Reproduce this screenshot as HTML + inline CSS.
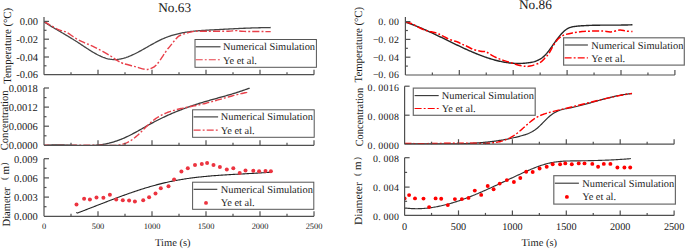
<!DOCTYPE html>
<html><head><meta charset="utf-8"><style>
html,body{margin:0;padding:0;background:#fff;}
body{width:685px;height:249px;overflow:hidden;}
svg{display:block;}
text{font-family:"Liberation Serif",serif;fill:#1a1a1a;text-rendering:geometricPrecision;}
</style></head><body>
<svg width="685" height="249" viewBox="0 0 685 249">
<rect width="685" height="249" fill="#fff"/>
<defs><clipPath id="c0"><rect x="44.0" y="5.0" width="280.00" height="69.70"/></clipPath><clipPath id="c1"><rect x="44.0" y="76.0" width="280.00" height="69.30"/></clipPath><clipPath id="c2"><rect x="44.0" y="146.7" width="280.00" height="69.60"/></clipPath><clipPath id="c3"><rect x="405.4" y="4.899999999999999" width="279.50" height="70.10"/></clipPath><clipPath id="c4"><rect x="404.6" y="74.2" width="279.50" height="70.00"/></clipPath><clipPath id="c5"><rect x="404.6" y="145.7" width="279.50" height="69.70"/></clipPath></defs>
<g clip-path="url(#c0)">
<path d="M44.00,21.40 L45.00,22.55 L46.00,23.18 L47.00,23.79 L48.00,24.41 L49.00,25.02 L50.00,25.62 L51.00,26.22 L52.00,26.82 L53.00,27.42 L54.00,28.01 L55.00,28.60 L56.00,29.19 L57.00,29.78 L58.00,30.37 L59.00,30.95 L60.00,31.54 L61.00,32.13 L62.00,32.71 L63.00,33.30 L64.00,33.89 L65.00,34.48 L66.00,35.07 L67.00,35.67 L68.00,36.26 L69.00,36.86 L70.00,37.47 L71.00,38.07 L72.00,38.69 L73.00,39.30 L74.00,39.93 L75.00,40.55 L76.00,41.19 L77.00,41.82 L78.00,42.47 L79.00,43.12 L80.00,43.78 L81.00,44.44 L82.00,45.11 L83.00,45.77 L84.00,46.44 L85.00,47.10 L86.00,47.76 L87.00,48.42 L88.00,49.07 L89.00,49.72 L90.00,50.35 L91.00,50.98 L92.00,51.60 L93.00,52.20 L94.00,52.79 L95.00,53.36 L96.00,53.92 L97.00,54.46 L98.00,54.98 L99.00,55.48 L100.00,55.96 L101.00,56.42 L102.00,56.84 L103.00,57.25 L104.00,57.62 L105.00,57.97 L106.00,58.29 L107.00,58.57 L108.00,58.82 L109.00,59.04 L110.00,59.22 L111.00,59.36 L112.00,59.47 L113.00,59.54 L114.00,59.57 L115.00,59.57 L116.00,59.53 L117.00,59.46 L118.00,59.35 L119.00,59.22 L120.00,59.06 L121.00,58.86 L122.00,58.64 L123.00,58.40 L124.00,58.13 L125.00,57.83 L126.00,57.51 L127.00,57.16 L128.00,56.80 L129.00,56.41 L130.00,56.01 L131.00,55.59 L132.00,55.15 L133.00,54.69 L134.00,54.22 L135.00,53.73 L136.00,53.24 L137.00,52.73 L138.00,52.20 L139.00,51.67 L140.00,51.13 L141.00,50.59 L142.00,50.03 L143.00,49.47 L144.00,48.91 L145.00,48.34 L146.00,47.77 L147.00,47.20 L148.00,46.63 L149.00,46.06 L150.00,45.49 L151.00,44.93 L152.00,44.37 L153.00,43.81 L154.00,43.26 L155.00,42.72 L156.00,42.19 L157.00,41.66 L158.00,41.15 L159.00,40.64 L160.00,40.15 L161.00,39.67 L162.00,39.21 L163.00,38.76 L164.00,38.33 L165.00,37.92 L166.00,37.52 L167.00,37.13 L168.00,36.76 L169.00,36.40 L170.00,36.06 L171.00,35.73 L172.00,35.42 L173.00,35.11 L174.00,34.82 L175.00,34.55 L176.00,34.28 L177.00,34.03 L178.00,33.78 L179.00,33.55 L180.00,33.33 L181.00,33.12 L182.00,32.92 L183.00,32.73 L184.00,32.55 L185.00,32.37 L186.00,32.21 L187.00,32.05 L188.00,31.91 L189.00,31.77 L190.00,31.63 L191.00,31.51 L192.00,31.39 L193.00,31.28 L194.00,31.17 L195.00,31.07 L196.00,30.97 L197.00,30.88 L198.00,30.80 L199.00,30.72 L200.00,30.64 L201.00,30.56 L202.00,30.49 L203.00,30.43 L204.00,30.36 L205.00,30.30 L206.00,30.24 L207.00,30.18 L208.00,30.13 L209.00,30.07 L210.00,30.02 L211.00,29.96 L212.00,29.91 L213.00,29.86 L214.00,29.80 L215.00,29.75 L216.00,29.69 L217.00,29.64 L218.00,29.59 L219.00,29.53 L220.00,29.48 L221.00,29.42 L222.00,29.37 L223.00,29.31 L224.00,29.26 L225.00,29.20 L226.00,29.15 L227.00,29.10 L228.00,29.04 L229.00,28.99 L230.00,28.94 L231.00,28.89 L232.00,28.84 L233.00,28.79 L234.00,28.74 L235.00,28.69 L236.00,28.64 L237.00,28.59 L238.00,28.54 L239.00,28.49 L240.00,28.45 L241.00,28.40 L242.00,28.36 L243.00,28.31 L244.00,28.27 L245.00,28.23 L246.00,28.19 L247.00,28.15 L248.00,28.11 L249.00,28.07 L250.00,28.03 L251.00,28.00 L252.00,27.96 L253.00,27.93 L254.00,27.90 L255.00,27.87 L256.00,27.84 L257.00,27.81 L258.00,27.78 L259.00,27.76 L260.00,27.74 L261.00,27.71 L262.00,27.69 L263.00,27.68 L264.00,27.66 L265.00,27.64 L266.00,27.63 L267.00,27.62 L268.00,27.61 L269.00,27.60 L270.00,27.59 L270.70,27.50" fill="none" stroke="#444" stroke-width="1.3" stroke-linejoin="round"/>
<path d="M44.30,21.50 C46.53,22.80 54.00,27.50 57.70,29.30 C61.40,31.10 63.55,30.82 66.50,32.30 C69.45,33.78 72.45,36.48 75.40,38.20 C78.35,39.92 81.27,41.25 84.20,42.60 C87.13,43.95 90.05,44.90 93.00,46.30 C95.95,47.70 98.95,49.38 101.90,51.00 C104.85,52.62 108.18,54.43 110.70,56.00 C113.22,57.57 114.92,59.15 117.00,60.40 C119.08,61.65 120.17,62.47 123.20,63.50 C126.23,64.53 131.52,65.62 135.20,66.60 C138.88,67.58 142.55,69.13 145.30,69.40 C148.05,69.67 149.77,69.03 151.70,68.20 C153.63,67.37 154.97,66.53 156.90,64.40 C158.83,62.27 161.65,57.77 163.30,55.40 C164.95,53.03 165.73,51.67 166.80,50.20 C167.87,48.73 168.75,47.78 169.70,46.60 C170.65,45.42 171.53,44.30 172.50,43.10 C173.47,41.90 174.45,40.55 175.50,39.40 C176.55,38.25 177.38,37.12 178.80,36.20 C180.22,35.28 181.92,34.62 184.00,33.90 C186.08,33.18 189.22,32.35 191.30,31.90 C193.38,31.45 194.58,31.30 196.50,31.20 C198.42,31.10 200.20,31.28 202.80,31.30 C205.40,31.32 207.87,31.32 212.10,31.30 C216.33,31.28 224.18,31.32 228.20,31.20 C232.22,31.08 233.53,30.57 236.20,30.60 C238.87,30.63 238.45,31.23 244.20,31.40 C249.95,31.57 266.28,31.57 270.70,31.60" fill="none" stroke="#e8404a" stroke-width="1.4" stroke-linejoin="round" stroke-dasharray="7 2.1 1.9 2.1"/>
</g>
<g clip-path="url(#c1)">
<path d="M44.00,145.30 L45.00,145.46 L46.00,145.36 L47.00,145.28 L48.00,145.20 L49.00,145.13 L50.00,145.07 L51.00,145.03 L52.00,144.99 L53.00,144.95 L54.00,144.93 L55.00,144.91 L56.00,144.90 L57.00,144.90 L58.00,144.90 L59.00,144.91 L60.00,144.92 L61.00,144.94 L62.00,144.96 L63.00,144.99 L64.00,145.02 L65.00,145.05 L66.00,145.09 L67.00,145.13 L68.00,145.17 L69.00,145.21 L70.00,145.25 L71.00,145.29 L72.00,145.34 L73.00,145.38 L74.00,145.42 L75.00,145.46 L76.00,145.50 L77.00,145.54 L78.00,145.57 L79.00,145.60 L80.00,145.63 L81.00,145.66 L82.00,145.68 L83.00,145.69 L84.00,145.70 L85.00,145.71 L86.00,145.71 L87.00,145.70 L88.00,145.69 L89.00,145.67 L90.00,145.64 L91.00,145.61 L92.00,145.56 L93.00,145.51 L94.00,145.45 L95.00,145.38 L96.00,145.30 L97.00,145.21 L98.00,145.10 L99.00,144.99 L100.00,144.86 L101.00,144.72 L102.00,144.57 L103.00,144.41 L104.00,144.23 L105.00,144.05 L106.00,143.85 L107.00,143.63 L108.00,143.40 L109.00,143.17 L110.00,142.91 L111.00,142.65 L112.00,142.37 L113.00,142.08 L114.00,141.78 L115.00,141.46 L116.00,141.14 L117.00,140.80 L118.00,140.44 L119.00,140.08 L120.00,139.70 L121.00,139.31 L122.00,138.91 L123.00,138.49 L124.00,138.06 L125.00,137.62 L126.00,137.17 L127.00,136.70 L128.00,136.22 L129.00,135.73 L130.00,135.23 L131.00,134.72 L132.00,134.21 L133.00,133.68 L134.00,133.14 L135.00,132.60 L136.00,132.06 L137.00,131.51 L138.00,130.95 L139.00,130.39 L140.00,129.83 L141.00,129.26 L142.00,128.69 L143.00,128.13 L144.00,127.56 L145.00,126.99 L146.00,126.43 L147.00,125.86 L148.00,125.30 L149.00,124.75 L150.00,124.19 L151.00,123.65 L152.00,123.11 L153.00,122.57 L154.00,122.04 L155.00,121.52 L156.00,121.00 L157.00,120.49 L158.00,119.98 L159.00,119.48 L160.00,118.98 L161.00,118.49 L162.00,118.01 L163.00,117.53 L164.00,117.05 L165.00,116.59 L166.00,116.12 L167.00,115.66 L168.00,115.21 L169.00,114.76 L170.00,114.32 L171.00,113.88 L172.00,113.45 L173.00,113.02 L174.00,112.60 L175.00,112.18 L176.00,111.77 L177.00,111.36 L178.00,110.95 L179.00,110.56 L180.00,110.16 L181.00,109.77 L182.00,109.39 L183.00,109.00 L184.00,108.63 L185.00,108.26 L186.00,107.89 L187.00,107.52 L188.00,107.16 L189.00,106.81 L190.00,106.46 L191.00,106.11 L192.00,105.77 L193.00,105.43 L194.00,105.10 L195.00,104.76 L196.00,104.44 L197.00,104.11 L198.00,103.80 L199.00,103.48 L200.00,103.17 L201.00,102.86 L202.00,102.56 L203.00,102.25 L204.00,101.96 L205.00,101.66 L206.00,101.37 L207.00,101.08 L208.00,100.79 L209.00,100.51 L210.00,100.22 L211.00,99.94 L212.00,99.66 L213.00,99.38 L214.00,99.10 L215.00,98.82 L216.00,98.54 L217.00,98.27 L218.00,97.99 L219.00,97.71 L220.00,97.44 L221.00,97.16 L222.00,96.88 L223.00,96.60 L224.00,96.32 L225.00,96.04 L226.00,95.75 L227.00,95.47 L228.00,95.18 L229.00,94.89 L230.00,94.60 L231.00,94.30 L232.00,94.00 L233.00,93.70 L234.00,93.40 L235.00,93.09 L236.00,92.78 L237.00,92.46 L238.00,92.14 L239.00,91.82 L240.00,91.49 L241.00,91.15 L242.00,90.81 L243.00,90.47 L244.00,90.12 L245.00,89.76 L246.00,89.40 L247.00,89.03 L248.00,88.66 L249.00,88.28 L249.70,88.30" fill="none" stroke="#3a3a3a" stroke-width="1.3" stroke-linejoin="round"/>
<path d="M44.00,145.30 L45.00,145.22 L46.00,145.25 L47.00,145.29 L48.00,145.32 L49.00,145.34 L50.00,145.36 L51.00,145.38 L52.00,145.40 L53.00,145.41 L54.00,145.43 L55.00,145.43 L56.00,145.44 L57.00,145.44 L58.00,145.44 L59.00,145.44 L60.00,145.44 L61.00,145.44 L62.00,145.43 L63.00,145.42 L64.00,145.41 L65.00,145.40 L66.00,145.39 L67.00,145.37 L68.00,145.36 L69.00,145.35 L70.00,145.33 L71.00,145.31 L72.00,145.30 L73.00,145.28 L74.00,145.26 L75.00,145.25 L76.00,145.23 L77.00,145.21 L78.00,145.20 L79.00,145.18 L80.00,145.17 L81.00,145.15 L82.00,145.14 L83.00,145.13 L84.00,145.12 L85.00,145.11 L86.00,145.10 L87.00,145.09 L88.00,145.09 L89.00,145.09 L90.00,145.08 L91.00,145.09 L92.00,145.09 L93.00,145.10 L94.00,145.10 L95.00,145.12 L96.00,145.13 L97.00,145.15 L98.00,145.17 L99.00,145.19 L100.00,145.22 L101.00,145.25 L102.00,145.28 L103.00,145.32 L104.00,145.36 L105.00,145.40 L106.00,145.44 L107.00,145.48 L108.00,145.51 L109.00,145.54 L110.00,145.55 L111.00,145.56 L112.00,145.55 L113.00,145.53 L114.00,145.50 L115.00,145.44 L116.00,145.37 L117.00,145.27 L118.00,145.15 L119.00,145.00 L120.00,144.82 L121.00,144.61 L122.00,144.37 L123.00,144.09 L124.00,143.78 L125.00,143.43 L126.00,143.04 L127.00,142.61 L128.00,142.13 L129.00,141.61 L130.00,141.04 L131.00,140.42 L132.00,139.75 L133.00,139.04 L134.00,138.29 L135.00,137.49 L136.00,136.66 L137.00,135.80 L138.00,134.90 L139.00,133.97 L140.00,133.01 L141.00,132.03 L142.00,131.04 L143.00,130.02 L144.00,129.01 L145.00,127.99 L146.00,126.98 L147.00,125.99 L148.00,125.01 L149.00,124.06 L150.00,123.15 L151.00,122.27 L152.00,121.43 L153.00,120.63 L154.00,119.86 L155.00,119.13 L156.00,118.44 L157.00,117.77 L158.00,117.14 L159.00,116.54 L160.00,115.96 L161.00,115.42 L162.00,114.90 L163.00,114.40 L164.00,113.93 L165.00,113.49 L166.00,113.06 L167.00,112.66 L168.00,112.27 L169.00,111.91 L170.00,111.56 L171.00,111.22 L172.00,110.91 L173.00,110.60 L174.00,110.31 L175.00,110.03 L176.00,109.76 L177.00,109.50 L178.00,109.25 L179.00,109.01 L180.00,108.77 L181.00,108.54 L182.00,108.32 L183.00,108.10 L184.00,107.89 L185.00,107.69 L186.00,107.48 L187.00,107.28 L188.00,107.08 L189.00,106.89 L190.00,106.69 L191.00,106.50 L192.00,106.30 L193.00,106.10 L194.00,105.90 L195.00,105.70 L196.00,105.50 L197.00,105.29 L198.00,105.08 L199.00,104.87 L200.00,104.64 L201.00,104.41 L202.00,104.18 L203.00,103.94 L204.00,103.70 L205.00,103.45 L206.00,103.20 L207.00,102.94 L208.00,102.68 L209.00,102.41 L210.00,102.15 L211.00,101.88 L212.00,101.60 L213.00,101.33 L214.00,101.05 L215.00,100.77 L216.00,100.48 L217.00,100.20 L218.00,99.92 L219.00,99.63 L220.00,99.34 L221.00,99.06 L222.00,98.77 L223.00,98.48 L224.00,98.20 L225.00,97.91 L226.00,97.63 L227.00,97.35 L228.00,97.06 L229.00,96.79 L230.00,96.51 L231.00,96.23 L232.00,95.96 L233.00,95.69 L234.00,95.43 L235.00,95.16 L236.00,94.91 L237.00,94.65 L238.00,94.40 L239.00,94.16 L240.00,93.91 L241.00,93.68 L242.00,93.45 L243.00,93.23 L244.00,93.01 L245.00,92.80 L246.00,92.59 L247.00,92.39 L248.00,92.00" fill="none" stroke="#e8404a" stroke-width="1.4" stroke-linejoin="round" stroke-dasharray="7 2.1 1.9 2.1"/>
</g>
<g clip-path="url(#c2)">
<path d="M76.30,212.40 L77.30,213.09 L78.30,212.71 L79.30,212.33 L80.30,211.94 L81.30,211.56 L82.30,211.18 L83.30,210.79 L84.30,210.40 L85.30,210.02 L86.30,209.63 L87.30,209.24 L88.30,208.86 L89.30,208.47 L90.30,208.08 L91.30,207.69 L92.30,207.30 L93.30,206.91 L94.30,206.52 L95.30,206.13 L96.30,205.74 L97.30,205.35 L98.30,204.97 L99.30,204.58 L100.30,204.19 L101.30,203.80 L102.30,203.41 L103.30,203.03 L104.30,202.64 L105.30,202.25 L106.30,201.87 L107.30,201.48 L108.30,201.10 L109.30,200.72 L110.30,200.34 L111.30,199.96 L112.30,199.58 L113.30,199.20 L114.30,198.82 L115.30,198.44 L116.30,198.07 L117.30,197.70 L118.30,197.32 L119.30,196.95 L120.30,196.59 L121.30,196.22 L122.30,195.85 L123.30,195.49 L124.30,195.13 L125.30,194.77 L126.30,194.41 L127.30,194.05 L128.30,193.70 L129.30,193.35 L130.30,193.00 L131.30,192.65 L132.30,192.31 L133.30,191.96 L134.30,191.62 L135.30,191.29 L136.30,190.95 L137.30,190.62 L138.30,190.29 L139.30,189.96 L140.30,189.64 L141.30,189.32 L142.30,189.00 L143.30,188.69 L144.30,188.37 L145.30,188.06 L146.30,187.76 L147.30,187.46 L148.30,187.16 L149.30,186.86 L150.30,186.57 L151.30,186.28 L152.30,186.00 L153.30,185.72 L154.30,185.44 L155.30,185.16 L156.30,184.89 L157.30,184.63 L158.30,184.37 L159.30,184.11 L160.30,183.85 L161.30,183.61 L162.30,183.36 L163.30,183.12 L164.30,182.88 L165.30,182.65 L166.30,182.42 L167.30,182.20 L168.30,181.98 L169.30,181.76 L170.30,181.55 L171.30,181.35 L172.30,181.15 L173.30,180.95 L174.30,180.75 L175.30,180.56 L176.30,180.38 L177.30,180.20 L178.30,180.02 L179.30,179.84 L180.30,179.67 L181.30,179.51 L182.30,179.34 L183.30,179.18 L184.30,179.03 L185.30,178.87 L186.30,178.72 L187.30,178.58 L188.30,178.43 L189.30,178.29 L190.30,178.16 L191.30,178.02 L192.30,177.89 L193.30,177.76 L194.30,177.64 L195.30,177.52 L196.30,177.40 L197.30,177.28 L198.30,177.17 L199.30,177.06 L200.30,176.95 L201.30,176.84 L202.30,176.74 L203.30,176.64 L204.30,176.54 L205.30,176.44 L206.30,176.35 L207.30,176.25 L208.30,176.16 L209.30,176.08 L210.30,175.99 L211.30,175.91 L212.30,175.82 L213.30,175.74 L214.30,175.66 L215.30,175.59 L216.30,175.51 L217.30,175.44 L218.30,175.36 L219.30,175.29 L220.30,175.22 L221.30,175.16 L222.30,175.09 L223.30,175.02 L224.30,174.96 L225.30,174.90 L226.30,174.83 L227.30,174.77 L228.30,174.71 L229.30,174.65 L230.30,174.59 L231.30,174.54 L232.30,174.48 L233.30,174.42 L234.30,174.37 L235.30,174.31 L236.30,174.26 L237.30,174.20 L238.30,174.15 L239.30,174.09 L240.30,174.04 L241.30,173.99 L242.30,173.93 L243.30,173.88 L244.30,173.83 L245.30,173.77 L246.30,173.72 L247.30,173.67 L248.30,173.62 L249.30,173.56 L250.30,173.51 L251.30,173.45 L252.30,173.40 L253.30,173.34 L254.30,173.29 L255.30,173.23 L256.30,173.17 L257.30,173.12 L258.30,173.06 L259.30,173.00 L260.30,172.94 L261.30,172.88 L262.30,172.81 L263.30,172.75 L264.30,172.69 L265.30,172.62 L266.30,172.55 L267.30,172.49 L268.30,172.42 L269.30,172.35 L270.30,172.10" fill="none" stroke="#222" stroke-width="1.1" stroke-linejoin="round"/>
<circle cx="76.5" cy="204.60" r="2.0" fill="#ec3440"/>
<circle cx="84.1" cy="198.70" r="2.0" fill="#ec3440"/>
<circle cx="89.9" cy="199.60" r="2.0" fill="#ec3440"/>
<circle cx="96.5" cy="197.40" r="2.0" fill="#ec3440"/>
<circle cx="103.4" cy="197.70" r="2.0" fill="#ec3440"/>
<circle cx="109.9" cy="194.80" r="2.0" fill="#ec3440"/>
<circle cx="116.2" cy="199.60" r="2.0" fill="#ec3440"/>
<circle cx="122.8" cy="200.20" r="2.0" fill="#ec3440"/>
<circle cx="129.1" cy="200.50" r="2.0" fill="#ec3440"/>
<circle cx="134.9" cy="201.40" r="2.0" fill="#ec3440"/>
<circle cx="143.2" cy="200.20" r="2.0" fill="#ec3440"/>
<circle cx="149.1" cy="197.30" r="2.0" fill="#ec3440"/>
<circle cx="155.5" cy="193.40" r="2.0" fill="#ec3440"/>
<circle cx="160.8" cy="188.30" r="2.0" fill="#ec3440"/>
<circle cx="168.5" cy="186.20" r="2.0" fill="#ec3440"/>
<circle cx="174.1" cy="179.40" r="2.0" fill="#ec3440"/>
<circle cx="181.4" cy="171.40" r="2.0" fill="#ec3440"/>
<circle cx="187.8" cy="168.20" r="2.0" fill="#ec3440"/>
<circle cx="195" cy="164.90" r="2.0" fill="#ec3440"/>
<circle cx="201.8" cy="164.10" r="2.0" fill="#ec3440"/>
<circle cx="207.1" cy="162.90" r="2.0" fill="#ec3440"/>
<circle cx="213.5" cy="164.90" r="2.0" fill="#ec3440"/>
<circle cx="219.9" cy="166.90" r="2.0" fill="#ec3440"/>
<circle cx="226.8" cy="169.40" r="2.0" fill="#ec3440"/>
<circle cx="233.3" cy="168.20" r="2.0" fill="#ec3440"/>
<circle cx="239.7" cy="173.10" r="2.0" fill="#ec3440"/>
<circle cx="245.5" cy="170.50" r="2.0" fill="#ec3440"/>
<circle cx="253.3" cy="170.80" r="2.0" fill="#ec3440"/>
<circle cx="259.1" cy="171.20" r="2.0" fill="#ec3440"/>
<circle cx="265.5" cy="171.00" r="2.0" fill="#ec3440"/>
<circle cx="270.9" cy="171.20" r="2.0" fill="#ec3440"/>
</g>
<g clip-path="url(#c3)">
<path d="M405.50,21.60 L406.50,22.51 L407.50,22.85 L408.50,23.19 L409.50,23.54 L410.50,23.90 L411.50,24.26 L412.50,24.63 L413.50,25.01 L414.50,25.39 L415.50,25.78 L416.50,26.18 L417.50,26.58 L418.50,26.99 L419.50,27.40 L420.50,27.82 L421.50,28.25 L422.50,28.67 L423.50,29.11 L424.50,29.54 L425.50,29.99 L426.50,30.43 L427.50,30.88 L428.50,31.34 L429.50,31.79 L430.50,32.25 L431.50,32.72 L432.50,33.18 L433.50,33.65 L434.50,34.12 L435.50,34.60 L436.50,35.07 L437.50,35.55 L438.50,36.03 L439.50,36.52 L440.50,37.00 L441.50,37.48 L442.50,37.97 L443.50,38.46 L444.50,38.94 L445.50,39.43 L446.50,39.92 L447.50,40.41 L448.50,40.89 L449.50,41.38 L450.50,41.87 L451.50,42.36 L452.50,42.84 L453.50,43.33 L454.50,43.81 L455.50,44.29 L456.50,44.77 L457.50,45.25 L458.50,45.73 L459.50,46.20 L460.50,46.67 L461.50,47.14 L462.50,47.61 L463.50,48.07 L464.50,48.54 L465.50,48.99 L466.50,49.45 L467.50,49.90 L468.50,50.34 L469.50,50.78 L470.50,51.22 L471.50,51.66 L472.50,52.08 L473.50,52.51 L474.50,52.93 L475.50,53.34 L476.50,53.75 L477.50,54.15 L478.50,54.55 L479.50,54.94 L480.50,55.32 L481.50,55.70 L482.50,56.07 L483.50,56.44 L484.50,56.80 L485.50,57.15 L486.50,57.49 L487.50,57.83 L488.50,58.16 L489.50,58.48 L490.50,58.79 L491.50,59.09 L492.50,59.39 L493.50,59.68 L494.50,59.95 L495.50,60.22 L496.50,60.48 L497.50,60.73 L498.50,60.97 L499.50,61.20 L500.50,61.42 L501.50,61.64 L502.50,61.84 L503.50,62.03 L504.50,62.21 L505.50,62.37 L506.50,62.53 L507.50,62.68 L508.50,62.81 L509.50,62.93 L510.50,63.04 L511.50,63.14 L512.50,63.23 L513.50,63.30 L514.50,63.36 L515.50,63.41 L516.50,63.45 L517.50,63.47 L518.50,63.48 L519.50,63.47 L520.50,63.45 L521.50,63.42 L522.50,63.37 L523.50,63.31 L524.50,63.24 L525.50,63.14 L526.50,63.04 L527.50,62.92 L528.50,62.78 L529.50,62.63 L530.50,62.46 L531.50,62.28 L532.50,62.07 L533.50,61.83 L534.50,61.55 L535.50,61.24 L536.50,60.88 L537.50,60.47 L538.50,60.00 L539.50,59.48 L540.50,58.88 L541.50,58.21 L542.50,57.47 L543.50,56.64 L544.50,55.72 L545.50,54.71 L546.50,53.60 L547.50,52.41 L548.50,51.15 L549.50,49.83 L550.50,48.47 L551.50,47.07 L552.50,45.65 L553.50,44.23 L554.50,42.82 L555.50,41.41 L556.50,40.03 L557.50,38.68 L558.50,37.37 L559.50,36.11 L560.50,34.90 L561.50,33.75 L562.50,32.68 L563.50,31.68 L564.50,30.78 L565.50,29.97 L566.50,29.26 L567.50,28.66 L568.50,28.14 L569.50,27.71 L570.50,27.35 L571.50,27.05 L572.50,26.81 L573.50,26.62 L574.50,26.46 L575.50,26.33 L576.50,26.23 L577.50,26.14 L578.50,26.05 L579.50,25.97 L580.50,25.89 L581.50,25.82 L582.50,25.75 L583.50,25.69 L584.50,25.63 L585.50,25.58 L586.50,25.53 L587.50,25.48 L588.50,25.44 L589.50,25.40 L590.50,25.37 L591.50,25.33 L592.50,25.31 L593.50,25.28 L594.50,25.26 L595.50,25.24 L596.50,25.22 L597.50,25.20 L598.50,25.19 L599.50,25.18 L600.50,25.17 L601.50,25.16 L602.50,25.15 L603.50,25.15 L604.50,25.14 L605.50,25.14 L606.50,25.14 L607.50,25.13 L608.50,25.13 L609.50,25.13 L610.50,25.13 L611.50,25.13 L612.50,25.12 L613.50,25.12 L614.50,25.12 L615.50,25.11 L616.50,25.11 L617.50,25.10 L618.50,25.10 L619.50,25.09 L620.50,25.08 L621.50,25.07 L622.50,25.05 L623.50,25.04 L624.50,25.02 L625.50,25.00 L626.50,24.97 L627.50,24.95 L628.50,24.92 L629.50,24.89 L630.50,24.85 L631.50,24.81 L632.50,24.90" fill="none" stroke="#262626" stroke-width="1.4" stroke-linejoin="round"/>
<path d="M405.50,21.60 C406.55,21.95 409.62,22.75 411.80,23.70 C413.98,24.65 416.32,26.18 418.60,27.30 C420.88,28.42 423.70,29.72 425.50,30.40 C427.30,31.08 427.90,31.05 429.40,31.40 C430.90,31.75 432.93,32.07 434.50,32.50 C436.07,32.93 437.23,33.32 438.80,34.00 C440.37,34.68 441.97,35.63 443.90,36.60 C445.83,37.57 448.12,38.90 450.40,39.80 C452.68,40.70 455.67,41.25 457.60,42.00 C459.53,42.75 460.47,43.60 462.00,44.30 C463.53,45.00 464.87,45.32 466.80,46.20 C468.73,47.08 471.32,48.77 473.60,49.60 C475.88,50.43 478.45,50.83 480.50,51.20 C482.55,51.57 484.08,51.15 485.90,51.80 C487.72,52.45 489.35,53.98 491.40,55.10 C493.45,56.22 495.93,57.53 498.20,58.50 C500.47,59.47 502.73,60.15 505.00,60.90 C507.27,61.65 509.52,62.27 511.80,63.00 C514.08,63.73 516.42,64.75 518.70,65.30 C520.98,65.85 523.62,66.17 525.50,66.30 C527.38,66.43 527.65,66.68 530.00,66.10 C532.35,65.52 537.03,64.22 539.60,62.80 C542.17,61.38 543.78,59.27 545.40,57.60 C547.02,55.93 548.02,54.73 549.30,52.80 C550.58,50.87 551.82,48.10 553.10,46.00 C554.38,43.90 555.70,41.73 557.00,40.20 C558.30,38.67 559.62,37.70 560.90,36.80 C562.18,35.90 562.78,35.45 564.70,34.80 C566.62,34.15 569.50,33.43 572.40,32.90 C575.30,32.37 578.83,31.90 582.10,31.60 C585.37,31.30 588.52,31.18 592.00,31.10 C595.48,31.02 599.88,30.97 603.00,31.10 C606.12,31.23 607.88,32.08 610.70,31.90 C613.52,31.72 617.35,30.13 619.90,30.00 C622.45,29.87 623.90,30.83 626.00,31.10 C628.10,31.37 631.42,31.52 632.50,31.60" fill="none" stroke="#ff0000" stroke-width="1.5" stroke-linejoin="round" stroke-dasharray="7 2.1 1.9 2.1"/>
</g>
<g clip-path="url(#c4)">
<path d="M404.50,144.00 L405.50,143.97 L406.50,143.95 L407.50,143.94 L408.50,143.93 L409.50,143.92 L410.50,143.92 L411.50,143.91 L412.50,143.90 L413.50,143.90 L414.50,143.90 L415.50,143.89 L416.50,143.89 L417.50,143.89 L418.50,143.89 L419.50,143.89 L420.50,143.90 L421.50,143.90 L422.50,143.90 L423.50,143.90 L424.50,143.91 L425.50,143.91 L426.50,143.92 L427.50,143.92 L428.50,143.93 L429.50,143.93 L430.50,143.93 L431.50,143.94 L432.50,143.94 L433.50,143.95 L434.50,143.95 L435.50,143.96 L436.50,143.96 L437.50,143.96 L438.50,143.96 L439.50,143.96 L440.50,143.97 L441.50,143.97 L442.50,143.97 L443.50,143.96 L444.50,143.96 L445.50,143.96 L446.50,143.95 L447.50,143.95 L448.50,143.94 L449.50,143.93 L450.50,143.92 L451.50,143.91 L452.50,143.90 L453.50,143.89 L454.50,143.87 L455.50,143.85 L456.50,143.83 L457.50,143.81 L458.50,143.79 L459.50,143.77 L460.50,143.74 L461.50,143.71 L462.50,143.68 L463.50,143.65 L464.50,143.61 L465.50,143.58 L466.50,143.54 L467.50,143.49 L468.50,143.45 L469.50,143.40 L470.50,143.35 L471.50,143.30 L472.50,143.25 L473.50,143.19 L474.50,143.13 L475.50,143.06 L476.50,142.99 L477.50,142.92 L478.50,142.85 L479.50,142.77 L480.50,142.69 L481.50,142.61 L482.50,142.52 L483.50,142.43 L484.50,142.34 L485.50,142.24 L486.50,142.14 L487.50,142.04 L488.50,141.93 L489.50,141.82 L490.50,141.70 L491.50,141.58 L492.50,141.45 L493.50,141.33 L494.50,141.19 L495.50,141.05 L496.50,140.91 L497.50,140.77 L498.50,140.62 L499.50,140.46 L500.50,140.30 L501.50,140.14 L502.50,139.97 L503.50,139.79 L504.50,139.61 L505.50,139.43 L506.50,139.24 L507.50,139.05 L508.50,138.85 L509.50,138.64 L510.50,138.44 L511.50,138.22 L512.50,138.00 L513.50,137.77 L514.50,137.54 L515.50,137.31 L516.50,137.06 L517.50,136.82 L518.50,136.56 L519.50,136.30 L520.50,136.04 L521.50,135.76 L522.50,135.48 L523.50,135.19 L524.50,134.89 L525.50,134.56 L526.50,134.21 L527.50,133.84 L528.50,133.44 L529.50,133.01 L530.50,132.54 L531.50,132.03 L532.50,131.47 L533.50,130.87 L534.50,130.22 L535.50,129.51 L536.50,128.75 L537.50,127.93 L538.50,127.06 L539.50,126.15 L540.50,125.19 L541.50,124.20 L542.50,123.17 L543.50,122.13 L544.50,121.08 L545.50,120.05 L546.50,119.05 L547.50,118.09 L548.50,117.18 L549.50,116.32 L550.50,115.51 L551.50,114.74 L552.50,114.02 L553.50,113.35 L554.50,112.74 L555.50,112.17 L556.50,111.65 L557.50,111.18 L558.50,110.76 L559.50,110.38 L560.50,110.04 L561.50,109.73 L562.50,109.46 L563.50,109.21 L564.50,108.98 L565.50,108.77 L566.50,108.57 L567.50,108.38 L568.50,108.19 L569.50,108.01 L570.50,107.81 L571.50,107.61 L572.50,107.40 L573.50,107.19 L574.50,106.97 L575.50,106.74 L576.50,106.51 L577.50,106.27 L578.50,106.03 L579.50,105.78 L580.50,105.53 L581.50,105.27 L582.50,105.01 L583.50,104.74 L584.50,104.47 L585.50,104.20 L586.50,103.93 L587.50,103.65 L588.50,103.37 L589.50,103.09 L590.50,102.81 L591.50,102.53 L592.50,102.24 L593.50,101.96 L594.50,101.67 L595.50,101.38 L596.50,101.10 L597.50,100.81 L598.50,100.53 L599.50,100.25 L600.50,99.97 L601.50,99.69 L602.50,99.41 L603.50,99.14 L604.50,98.87 L605.50,98.60 L606.50,98.33 L607.50,98.07 L608.50,97.81 L609.50,97.56 L610.50,97.31 L611.50,97.06 L612.50,96.83 L613.50,96.59 L614.50,96.36 L615.50,96.14 L616.50,95.93 L617.50,95.72 L618.50,95.52 L619.50,95.32 L620.50,95.14 L621.50,94.96 L622.50,94.79 L623.50,94.63 L624.50,94.47 L625.50,94.33 L626.50,94.20 L627.50,94.07 L628.50,93.96 L629.50,93.85 L630.50,93.76 L631.50,93.68 L631.90,93.40" fill="none" stroke="#2e2e2e" stroke-width="1.2" stroke-linejoin="round"/>
<path d="M404.50,143.60 L405.50,143.37 L406.50,143.40 L407.50,143.43 L408.50,143.46 L409.50,143.49 L410.50,143.51 L411.50,143.53 L412.50,143.55 L413.50,143.57 L414.50,143.58 L415.50,143.59 L416.50,143.60 L417.50,143.61 L418.50,143.61 L419.50,143.61 L420.50,143.62 L421.50,143.62 L422.50,143.61 L423.50,143.61 L424.50,143.61 L425.50,143.60 L426.50,143.59 L427.50,143.58 L428.50,143.57 L429.50,143.56 L430.50,143.55 L431.50,143.54 L432.50,143.52 L433.50,143.51 L434.50,143.49 L435.50,143.48 L436.50,143.46 L437.50,143.45 L438.50,143.43 L439.50,143.41 L440.50,143.39 L441.50,143.38 L442.50,143.36 L443.50,143.34 L444.50,143.32 L445.50,143.31 L446.50,143.29 L447.50,143.27 L448.50,143.26 L449.50,143.24 L450.50,143.23 L451.50,143.21 L452.50,143.20 L453.50,143.19 L454.50,143.18 L455.50,143.16 L456.50,143.16 L457.50,143.15 L458.50,143.14 L459.50,143.13 L460.50,143.13 L461.50,143.13 L462.50,143.12 L463.50,143.13 L464.50,143.13 L465.50,143.13 L466.50,143.14 L467.50,143.14 L468.50,143.15 L469.50,143.17 L470.50,143.18 L471.50,143.20 L472.50,143.22 L473.50,143.24 L474.50,143.26 L475.50,143.28 L476.50,143.31 L477.50,143.33 L478.50,143.35 L479.50,143.36 L480.50,143.38 L481.50,143.39 L482.50,143.39 L483.50,143.38 L484.50,143.37 L485.50,143.35 L486.50,143.33 L487.50,143.29 L488.50,143.24 L489.50,143.18 L490.50,143.10 L491.50,143.01 L492.50,142.91 L493.50,142.79 L494.50,142.66 L495.50,142.50 L496.50,142.33 L497.50,142.14 L498.50,141.93 L499.50,141.70 L500.50,141.45 L501.50,141.18 L502.50,140.88 L503.50,140.55 L504.50,140.21 L505.50,139.83 L506.50,139.43 L507.50,139.00 L508.50,138.54 L509.50,138.05 L510.50,137.53 L511.50,136.98 L512.50,136.39 L513.50,135.78 L514.50,135.12 L515.50,134.43 L516.50,133.71 L517.50,132.95 L518.50,132.15 L519.50,131.33 L520.50,130.48 L521.50,129.61 L522.50,128.72 L523.50,127.83 L524.50,126.92 L525.50,126.02 L526.50,125.12 L527.50,124.23 L528.50,123.36 L529.50,122.50 L530.50,121.67 L531.50,120.86 L532.50,120.09 L533.50,119.35 L534.50,118.66 L535.50,118.01 L536.50,117.41 L537.50,116.86 L538.50,116.34 L539.50,115.87 L540.50,115.42 L541.50,115.01 L542.50,114.62 L543.50,114.26 L544.50,113.92 L545.50,113.60 L546.50,113.29 L547.50,113.00 L548.50,112.71 L549.50,112.43 L550.50,112.15 L551.50,111.88 L552.50,111.62 L553.50,111.36 L554.50,111.10 L555.50,110.84 L556.50,110.59 L557.50,110.35 L558.50,110.10 L559.50,109.86 L560.50,109.62 L561.50,109.38 L562.50,109.14 L563.50,108.90 L564.50,108.67 L565.50,108.43 L566.50,108.20 L567.50,107.96 L568.50,107.72 L569.50,107.48 L570.50,107.25 L571.50,107.00 L572.50,106.76 L573.50,106.52 L574.50,106.28 L575.50,106.03 L576.50,105.78 L577.50,105.54 L578.50,105.29 L579.50,105.04 L580.50,104.79 L581.50,104.54 L582.50,104.29 L583.50,104.04 L584.50,103.79 L585.50,103.53 L586.50,103.28 L587.50,103.03 L588.50,102.78 L589.50,102.53 L590.50,102.28 L591.50,102.03 L592.50,101.78 L593.50,101.53 L594.50,101.28 L595.50,101.04 L596.50,100.79 L597.50,100.54 L598.50,100.30 L599.50,100.06 L600.50,99.81 L601.50,99.57 L602.50,99.33 L603.50,99.10 L604.50,98.86 L605.50,98.63 L606.50,98.39 L607.50,98.16 L608.50,97.93 L609.50,97.71 L610.50,97.48 L611.50,97.26 L612.50,97.04 L613.50,96.83 L614.50,96.61 L615.50,96.40 L616.50,96.19 L617.50,95.99 L618.50,95.78 L619.50,95.58 L620.50,95.39 L621.50,95.19 L622.50,95.00 L623.50,94.81 L624.50,94.63 L625.50,94.45 L626.50,94.28 L627.50,94.10 L628.50,93.94 L629.50,93.77 L630.50,93.61 L631.50,93.46 L631.90,93.40" fill="none" stroke="#ff0000" stroke-width="1.4" stroke-linejoin="round" stroke-dasharray="7 2.1 1.9 2.1"/>
</g>
<g clip-path="url(#c5)">
<path d="M404.50,208.60 L405.50,208.05 L406.50,208.16 L407.50,208.27 L408.50,208.36 L409.50,208.44 L410.50,208.51 L411.50,208.57 L412.50,208.62 L413.50,208.66 L414.50,208.69 L415.50,208.70 L416.50,208.71 L417.50,208.70 L418.50,208.69 L419.50,208.66 L420.50,208.63 L421.50,208.58 L422.50,208.52 L423.50,208.46 L424.50,208.38 L425.50,208.30 L426.50,208.21 L427.50,208.10 L428.50,207.99 L429.50,207.87 L430.50,207.74 L431.50,207.60 L432.50,207.45 L433.50,207.30 L434.50,207.13 L435.50,206.96 L436.50,206.78 L437.50,206.59 L438.50,206.39 L439.50,206.18 L440.50,205.97 L441.50,205.75 L442.50,205.52 L443.50,205.28 L444.50,205.04 L445.50,204.79 L446.50,204.53 L447.50,204.27 L448.50,204.00 L449.50,203.72 L450.50,203.43 L451.50,203.14 L452.50,202.84 L453.50,202.54 L454.50,202.23 L455.50,201.91 L456.50,201.59 L457.50,201.26 L458.50,200.93 L459.50,200.59 L460.50,200.24 L461.50,199.89 L462.50,199.54 L463.50,199.18 L464.50,198.81 L465.50,198.44 L466.50,198.07 L467.50,197.69 L468.50,197.30 L469.50,196.92 L470.50,196.52 L471.50,196.12 L472.50,195.72 L473.50,195.32 L474.50,194.91 L475.50,194.50 L476.50,194.08 L477.50,193.66 L478.50,193.24 L479.50,192.81 L480.50,192.38 L481.50,191.95 L482.50,191.51 L483.50,191.07 L484.50,190.63 L485.50,190.19 L486.50,189.74 L487.50,189.29 L488.50,188.84 L489.50,188.39 L490.50,187.93 L491.50,187.48 L492.50,187.02 L493.50,186.56 L494.50,186.10 L495.50,185.63 L496.50,185.17 L497.50,184.70 L498.50,184.24 L499.50,183.77 L500.50,183.30 L501.50,182.83 L502.50,182.36 L503.50,181.89 L504.50,181.42 L505.50,180.95 L506.50,180.48 L507.50,180.01 L508.50,179.54 L509.50,179.07 L510.50,178.60 L511.50,178.13 L512.50,177.66 L513.50,177.19 L514.50,176.72 L515.50,176.25 L516.50,175.79 L517.50,175.32 L518.50,174.86 L519.50,174.40 L520.50,173.94 L521.50,173.48 L522.50,173.02 L523.50,172.56 L524.50,172.11 L525.50,171.67 L526.50,171.22 L527.50,170.78 L528.50,170.35 L529.50,169.91 L530.50,169.49 L531.50,169.07 L532.50,168.66 L533.50,168.25 L534.50,167.86 L535.50,167.47 L536.50,167.08 L537.50,166.71 L538.50,166.35 L539.50,165.99 L540.50,165.65 L541.50,165.31 L542.50,164.99 L543.50,164.68 L544.50,164.38 L545.50,164.09 L546.50,163.81 L547.50,163.55 L548.50,163.30 L549.50,163.07 L550.50,162.84 L551.50,162.64 L552.50,162.45 L553.50,162.27 L554.50,162.11 L555.50,161.96 L556.50,161.83 L557.50,161.71 L558.50,161.60 L559.50,161.50 L560.50,161.41 L561.50,161.33 L562.50,161.26 L563.50,161.19 L564.50,161.14 L565.50,161.09 L566.50,161.05 L567.50,161.02 L568.50,160.99 L569.50,160.96 L570.50,160.94 L571.50,160.93 L572.50,160.91 L573.50,160.90 L574.50,160.89 L575.50,160.88 L576.50,160.86 L577.50,160.85 L578.50,160.84 L579.50,160.83 L580.50,160.81 L581.50,160.80 L582.50,160.79 L583.50,160.77 L584.50,160.76 L585.50,160.74 L586.50,160.72 L587.50,160.70 L588.50,160.68 L589.50,160.66 L590.50,160.64 L591.50,160.62 L592.50,160.60 L593.50,160.57 L594.50,160.55 L595.50,160.52 L596.50,160.49 L597.50,160.47 L598.50,160.44 L599.50,160.41 L600.50,160.37 L601.50,160.34 L602.50,160.30 L603.50,160.27 L604.50,160.23 L605.50,160.19 L606.50,160.15 L607.50,160.11 L608.50,160.07 L609.50,160.02 L610.50,159.98 L611.50,159.93 L612.50,159.88 L613.50,159.83 L614.50,159.78 L615.50,159.72 L616.50,159.67 L617.50,159.61 L618.50,159.55 L619.50,159.49 L620.50,159.42 L621.50,159.36 L622.50,159.29 L623.50,159.22 L624.50,159.15 L625.50,159.08 L626.50,159.00 L627.50,158.93 L628.50,158.85 L629.50,158.77 L630.50,158.68 L630.80,158.90" fill="none" stroke="#333" stroke-width="1.15" stroke-linejoin="round"/>
<circle cx="404.6" cy="198.40" r="1.95" fill="#ff0000"/>
<circle cx="409.1" cy="195.10" r="1.95" fill="#ff0000"/>
<circle cx="415" cy="198.40" r="1.95" fill="#ff0000"/>
<circle cx="423.5" cy="198.60" r="1.95" fill="#ff0000"/>
<circle cx="429.1" cy="207.10" r="1.95" fill="#ff0000"/>
<circle cx="435.6" cy="198.40" r="1.95" fill="#ff0000"/>
<circle cx="441.2" cy="198.80" r="1.95" fill="#ff0000"/>
<circle cx="447.8" cy="205.10" r="1.95" fill="#ff0000"/>
<circle cx="454.9" cy="199.10" r="1.95" fill="#ff0000"/>
<circle cx="461.9" cy="199.10" r="1.95" fill="#ff0000"/>
<circle cx="468.5" cy="197.90" r="1.95" fill="#ff0000"/>
<circle cx="474.8" cy="190.60" r="1.95" fill="#ff0000"/>
<circle cx="481.2" cy="194.90" r="1.95" fill="#ff0000"/>
<circle cx="487.7" cy="186.00" r="1.95" fill="#ff0000"/>
<circle cx="493.6" cy="189.20" r="1.95" fill="#ff0000"/>
<circle cx="499.7" cy="183.60" r="1.95" fill="#ff0000"/>
<circle cx="506.9" cy="180.10" r="1.95" fill="#ff0000"/>
<circle cx="513.9" cy="182.00" r="1.95" fill="#ff0000"/>
<circle cx="520.3" cy="178.00" r="1.95" fill="#ff0000"/>
<circle cx="526.2" cy="171.70" r="1.95" fill="#ff0000"/>
<circle cx="532.7" cy="172.00" r="1.95" fill="#ff0000"/>
<circle cx="539.6" cy="168.50" r="1.95" fill="#ff0000"/>
<circle cx="546.7" cy="166.70" r="1.95" fill="#ff0000"/>
<circle cx="552.7" cy="164.20" r="1.95" fill="#ff0000"/>
<circle cx="560.1" cy="164.20" r="1.95" fill="#ff0000"/>
<circle cx="565.3" cy="163.40" r="1.95" fill="#ff0000"/>
<circle cx="571.8" cy="164.30" r="1.95" fill="#ff0000"/>
<circle cx="578.7" cy="163.40" r="1.95" fill="#ff0000"/>
<circle cx="584.5" cy="163.40" r="1.95" fill="#ff0000"/>
<circle cx="592.3" cy="163.90" r="1.95" fill="#ff0000"/>
<circle cx="598.1" cy="166.80" r="1.95" fill="#ff0000"/>
<circle cx="603.8" cy="163.90" r="1.95" fill="#ff0000"/>
<circle cx="610.4" cy="163.90" r="1.95" fill="#ff0000"/>
<circle cx="617.4" cy="167.50" r="1.95" fill="#ff0000"/>
<circle cx="624.4" cy="167.50" r="1.95" fill="#ff0000"/>
<circle cx="630.2" cy="167.50" r="1.95" fill="#ff0000"/>
</g>
<line x1="44.0" y1="17.0" x2="44.0" y2="74.7" stroke="#505050" stroke-width="1.2"/>
<line x1="44.0" y1="74.7" x2="314.0" y2="74.7" stroke="#505050" stroke-width="1.2"/>
<line x1="44.0" y1="21.4" x2="49.0" y2="21.4" stroke="#505050" stroke-width="1.2"/>
<line x1="44.0" y1="39.2" x2="49.0" y2="39.2" stroke="#505050" stroke-width="1.2"/>
<line x1="44.0" y1="57.0" x2="49.0" y2="57.0" stroke="#505050" stroke-width="1.2"/>
<line x1="44.0" y1="30.3" x2="46.5" y2="30.3" stroke="#505050" stroke-width="1.2"/>
<line x1="44.0" y1="48.1" x2="46.5" y2="48.1" stroke="#505050" stroke-width="1.2"/>
<line x1="44.0" y1="65.8" x2="46.5" y2="65.8" stroke="#505050" stroke-width="1.2"/>
<line x1="98.0" y1="74.7" x2="98.0" y2="69.7" stroke="#505050" stroke-width="1.2"/>
<line x1="152.0" y1="74.7" x2="152.0" y2="69.7" stroke="#505050" stroke-width="1.2"/>
<line x1="206.0" y1="74.7" x2="206.0" y2="69.7" stroke="#505050" stroke-width="1.2"/>
<line x1="260.0" y1="74.7" x2="260.0" y2="69.7" stroke="#505050" stroke-width="1.2"/>
<line x1="314.0" y1="74.7" x2="314.0" y2="69.7" stroke="#505050" stroke-width="1.2"/>
<line x1="71.0" y1="74.7" x2="71.0" y2="72.2" stroke="#505050" stroke-width="1.2"/>
<line x1="125.0" y1="74.7" x2="125.0" y2="72.2" stroke="#505050" stroke-width="1.2"/>
<line x1="179.0" y1="74.7" x2="179.0" y2="72.2" stroke="#505050" stroke-width="1.2"/>
<line x1="233.0" y1="74.7" x2="233.0" y2="72.2" stroke="#505050" stroke-width="1.2"/>
<line x1="287.0" y1="74.7" x2="287.0" y2="72.2" stroke="#505050" stroke-width="1.2"/>
<line x1="44.0" y1="88.0" x2="44.0" y2="145.3" stroke="#505050" stroke-width="1.2"/>
<line x1="44.0" y1="145.3" x2="314.0" y2="145.3" stroke="#505050" stroke-width="1.2"/>
<line x1="44.0" y1="88.0" x2="49.0" y2="88.0" stroke="#505050" stroke-width="1.2"/>
<line x1="44.0" y1="107.1" x2="49.0" y2="107.1" stroke="#505050" stroke-width="1.2"/>
<line x1="44.0" y1="126.2" x2="49.0" y2="126.2" stroke="#505050" stroke-width="1.2"/>
<line x1="44.0" y1="97.6" x2="46.5" y2="97.6" stroke="#505050" stroke-width="1.2"/>
<line x1="44.0" y1="116.7" x2="46.5" y2="116.7" stroke="#505050" stroke-width="1.2"/>
<line x1="44.0" y1="135.8" x2="46.5" y2="135.8" stroke="#505050" stroke-width="1.2"/>
<line x1="98.0" y1="145.3" x2="98.0" y2="140.3" stroke="#505050" stroke-width="1.2"/>
<line x1="152.0" y1="145.3" x2="152.0" y2="140.3" stroke="#505050" stroke-width="1.2"/>
<line x1="206.0" y1="145.3" x2="206.0" y2="140.3" stroke="#505050" stroke-width="1.2"/>
<line x1="260.0" y1="145.3" x2="260.0" y2="140.3" stroke="#505050" stroke-width="1.2"/>
<line x1="314.0" y1="145.3" x2="314.0" y2="140.3" stroke="#505050" stroke-width="1.2"/>
<line x1="71.0" y1="145.3" x2="71.0" y2="142.8" stroke="#505050" stroke-width="1.2"/>
<line x1="125.0" y1="145.3" x2="125.0" y2="142.8" stroke="#505050" stroke-width="1.2"/>
<line x1="179.0" y1="145.3" x2="179.0" y2="142.8" stroke="#505050" stroke-width="1.2"/>
<line x1="233.0" y1="145.3" x2="233.0" y2="142.8" stroke="#505050" stroke-width="1.2"/>
<line x1="287.0" y1="145.3" x2="287.0" y2="142.8" stroke="#505050" stroke-width="1.2"/>
<line x1="44.0" y1="158.7" x2="44.0" y2="216.3" stroke="#505050" stroke-width="1.2"/>
<line x1="44.0" y1="216.3" x2="314.0" y2="216.3" stroke="#505050" stroke-width="1.2"/>
<line x1="44.0" y1="158.7" x2="49.0" y2="158.7" stroke="#505050" stroke-width="1.2"/>
<line x1="44.0" y1="177.9" x2="49.0" y2="177.9" stroke="#505050" stroke-width="1.2"/>
<line x1="44.0" y1="197.1" x2="49.0" y2="197.1" stroke="#505050" stroke-width="1.2"/>
<line x1="44.0" y1="168.3" x2="46.5" y2="168.3" stroke="#505050" stroke-width="1.2"/>
<line x1="44.0" y1="187.5" x2="46.5" y2="187.5" stroke="#505050" stroke-width="1.2"/>
<line x1="44.0" y1="206.7" x2="46.5" y2="206.7" stroke="#505050" stroke-width="1.2"/>
<line x1="98.0" y1="216.3" x2="98.0" y2="211.3" stroke="#505050" stroke-width="1.2"/>
<line x1="152.0" y1="216.3" x2="152.0" y2="211.3" stroke="#505050" stroke-width="1.2"/>
<line x1="206.0" y1="216.3" x2="206.0" y2="211.3" stroke="#505050" stroke-width="1.2"/>
<line x1="260.0" y1="216.3" x2="260.0" y2="211.3" stroke="#505050" stroke-width="1.2"/>
<line x1="314.0" y1="216.3" x2="314.0" y2="211.3" stroke="#505050" stroke-width="1.2"/>
<line x1="71.0" y1="216.3" x2="71.0" y2="213.8" stroke="#505050" stroke-width="1.2"/>
<line x1="125.0" y1="216.3" x2="125.0" y2="213.8" stroke="#505050" stroke-width="1.2"/>
<line x1="179.0" y1="216.3" x2="179.0" y2="213.8" stroke="#505050" stroke-width="1.2"/>
<line x1="233.0" y1="216.3" x2="233.0" y2="213.8" stroke="#505050" stroke-width="1.2"/>
<line x1="287.0" y1="216.3" x2="287.0" y2="213.8" stroke="#505050" stroke-width="1.2"/>
<line x1="405.4" y1="16.9" x2="405.4" y2="75.0" stroke="#505050" stroke-width="1.2"/>
<line x1="405.4" y1="75.0" x2="674.9" y2="75.0" stroke="#505050" stroke-width="1.2"/>
<line x1="405.4" y1="21.6" x2="410.4" y2="21.6" stroke="#505050" stroke-width="1.2"/>
<line x1="405.4" y1="39.4" x2="410.4" y2="39.4" stroke="#505050" stroke-width="1.2"/>
<line x1="405.4" y1="57.2" x2="410.4" y2="57.2" stroke="#505050" stroke-width="1.2"/>
<line x1="405.4" y1="30.5" x2="407.9" y2="30.5" stroke="#505050" stroke-width="1.2"/>
<line x1="405.4" y1="48.3" x2="407.9" y2="48.3" stroke="#505050" stroke-width="1.2"/>
<line x1="405.4" y1="66.1" x2="407.9" y2="66.1" stroke="#505050" stroke-width="1.2"/>
<line x1="459.3" y1="75.0" x2="459.3" y2="70.0" stroke="#505050" stroke-width="1.2"/>
<line x1="513.2" y1="75.0" x2="513.2" y2="70.0" stroke="#505050" stroke-width="1.2"/>
<line x1="567.1" y1="75.0" x2="567.1" y2="70.0" stroke="#505050" stroke-width="1.2"/>
<line x1="621.0" y1="75.0" x2="621.0" y2="70.0" stroke="#505050" stroke-width="1.2"/>
<line x1="674.9" y1="75.0" x2="674.9" y2="70.0" stroke="#505050" stroke-width="1.2"/>
<line x1="432.35" y1="75.0" x2="432.35" y2="72.5" stroke="#505050" stroke-width="1.2"/>
<line x1="486.25" y1="75.0" x2="486.25" y2="72.5" stroke="#505050" stroke-width="1.2"/>
<line x1="540.15" y1="75.0" x2="540.15" y2="72.5" stroke="#505050" stroke-width="1.2"/>
<line x1="594.05" y1="75.0" x2="594.05" y2="72.5" stroke="#505050" stroke-width="1.2"/>
<line x1="647.95" y1="75.0" x2="647.95" y2="72.5" stroke="#505050" stroke-width="1.2"/>
<line x1="404.6" y1="86.2" x2="404.6" y2="144.2" stroke="#505050" stroke-width="1.2"/>
<line x1="404.6" y1="144.2" x2="674.1" y2="144.2" stroke="#505050" stroke-width="1.2"/>
<line x1="404.6" y1="86.2" x2="409.6" y2="86.2" stroke="#505050" stroke-width="1.2"/>
<line x1="404.6" y1="115.2" x2="409.6" y2="115.2" stroke="#505050" stroke-width="1.2"/>
<line x1="458.5" y1="144.2" x2="458.5" y2="139.2" stroke="#505050" stroke-width="1.2"/>
<line x1="512.4" y1="144.2" x2="512.4" y2="139.2" stroke="#505050" stroke-width="1.2"/>
<line x1="566.3" y1="144.2" x2="566.3" y2="139.2" stroke="#505050" stroke-width="1.2"/>
<line x1="620.2" y1="144.2" x2="620.2" y2="139.2" stroke="#505050" stroke-width="1.2"/>
<line x1="674.1" y1="144.2" x2="674.1" y2="139.2" stroke="#505050" stroke-width="1.2"/>
<line x1="431.55" y1="144.2" x2="431.55" y2="141.7" stroke="#505050" stroke-width="1.2"/>
<line x1="485.45" y1="144.2" x2="485.45" y2="141.7" stroke="#505050" stroke-width="1.2"/>
<line x1="539.35" y1="144.2" x2="539.35" y2="141.7" stroke="#505050" stroke-width="1.2"/>
<line x1="593.25" y1="144.2" x2="593.25" y2="141.7" stroke="#505050" stroke-width="1.2"/>
<line x1="647.15" y1="144.2" x2="647.15" y2="141.7" stroke="#505050" stroke-width="1.2"/>
<line x1="404.6" y1="157.7" x2="404.6" y2="215.4" stroke="#505050" stroke-width="1.2"/>
<line x1="404.6" y1="215.4" x2="674.1" y2="215.4" stroke="#505050" stroke-width="1.2"/>
<line x1="404.6" y1="157.7" x2="409.6" y2="157.7" stroke="#505050" stroke-width="1.2"/>
<line x1="404.6" y1="187.1" x2="409.6" y2="187.1" stroke="#505050" stroke-width="1.2"/>
<line x1="404.6" y1="172.4" x2="407.1" y2="172.4" stroke="#505050" stroke-width="1.2"/>
<line x1="404.6" y1="201.3" x2="407.1" y2="201.3" stroke="#505050" stroke-width="1.2"/>
<line x1="458.5" y1="215.4" x2="458.5" y2="210.4" stroke="#505050" stroke-width="1.2"/>
<line x1="512.4" y1="215.4" x2="512.4" y2="210.4" stroke="#505050" stroke-width="1.2"/>
<line x1="566.3" y1="215.4" x2="566.3" y2="210.4" stroke="#505050" stroke-width="1.2"/>
<line x1="620.2" y1="215.4" x2="620.2" y2="210.4" stroke="#505050" stroke-width="1.2"/>
<line x1="674.1" y1="215.4" x2="674.1" y2="210.4" stroke="#505050" stroke-width="1.2"/>
<line x1="431.55" y1="215.4" x2="431.55" y2="212.9" stroke="#505050" stroke-width="1.2"/>
<line x1="485.45" y1="215.4" x2="485.45" y2="212.9" stroke="#505050" stroke-width="1.2"/>
<line x1="539.35" y1="215.4" x2="539.35" y2="212.9" stroke="#505050" stroke-width="1.2"/>
<line x1="593.25" y1="215.4" x2="593.25" y2="212.9" stroke="#505050" stroke-width="1.2"/>
<line x1="647.15" y1="215.4" x2="647.15" y2="212.9" stroke="#505050" stroke-width="1.2"/>
<rect x="195.0" y="39.5" width="121.40" height="27.80" fill="#fff" stroke="#555" stroke-width="1.0"/>
<line x1="195.7" y1="46.8" x2="220.5" y2="46.8" stroke="#333" stroke-width="1.1"/>
<line x1="195.7" y1="59.8" x2="220.5" y2="59.8" stroke="#e8404a" stroke-width="1.1" stroke-dasharray="7 2.1 1.9 2.1"/>
<text x="223.0" y="50.2" font-size="10.4" text-anchor="start">Numerical Simulation</text>
<text x="223.0" y="63.6" font-size="10.4" text-anchor="start">Ye et al.</text>
<rect x="192.6" y="109.8" width="121.60" height="27.50" fill="#fff" stroke="#555" stroke-width="1.0"/>
<line x1="193.6" y1="116.9" x2="218.1" y2="116.9" stroke="#333" stroke-width="1.1"/>
<line x1="193.6" y1="130.1" x2="218.1" y2="130.1" stroke="#e8404a" stroke-width="1.1" stroke-dasharray="7 2.1 1.9 2.1"/>
<text x="220.8" y="120.3" font-size="10.4" text-anchor="start">Numerical Simulation</text>
<text x="220.8" y="133.5" font-size="10.4" text-anchor="start">Ye et al.</text>
<rect x="192.6" y="182.2" width="121.20" height="27.10" fill="#fff" stroke="#555" stroke-width="1.0"/>
<line x1="193.6" y1="189.3" x2="217.3" y2="189.3" stroke="#333" stroke-width="1.1"/>
<circle cx="206.0" cy="202.9" r="1.95" fill="#ec3440"/>
<text x="220.8" y="192.7" font-size="10.4" text-anchor="start">Numerical Simulation</text>
<text x="220.8" y="206.0" font-size="10.4" text-anchor="start">Ye et al.</text>
<rect x="563.6" y="37.8" width="120.70" height="27.30" fill="#fff" stroke="#6a6a6a" stroke-width="1.2"/>
<line x1="564.6" y1="45.0" x2="587.9" y2="45.0" stroke="#333" stroke-width="1.1"/>
<line x1="564.6" y1="57.9" x2="587.9" y2="57.9" stroke="#ff0000" stroke-width="1.1" stroke-dasharray="7 2.1 1.9 2.1"/>
<text x="591.3" y="48.7" font-size="10.4" text-anchor="start">Numerical Simulation</text>
<text x="591.3" y="61.7" font-size="10.4" text-anchor="start">Ye et al.</text>
<rect x="413.3" y="88.1" width="121.90" height="27.20" fill="#fff" stroke="#6a6a6a" stroke-width="1.2"/>
<line x1="414.6" y1="95.6" x2="438.7" y2="95.6" stroke="#333" stroke-width="1.1"/>
<line x1="414.6" y1="108.5" x2="438.7" y2="108.5" stroke="#ff0000" stroke-width="1.1" stroke-dasharray="7 2.1 1.9 2.1"/>
<text x="441.8" y="99.0" font-size="10.4" text-anchor="start">Numerical Simulation</text>
<text x="441.8" y="112.0" font-size="10.4" text-anchor="start">Ye et al.</text>
<rect x="553.8" y="175.7" width="121.60" height="28.40" fill="#fff" stroke="#6a6a6a" stroke-width="1.2"/>
<line x1="554.8" y1="183.2" x2="578.9" y2="183.2" stroke="#333" stroke-width="1.1"/>
<circle cx="566.9" cy="196.9" r="1.95" fill="#ff0000"/>
<text x="582.2" y="186.6" font-size="10.4" text-anchor="start">Numerical Simulation</text>
<text x="582.2" y="200.3" font-size="10.4" text-anchor="start">Ye et al.</text>
<text x="38.1" y="25.0" font-size="10.5" text-anchor="end">0.00</text>
<text x="38.1" y="42.800000000000004" font-size="10.5" text-anchor="end">-0.02</text>
<text x="38.1" y="60.6" font-size="10.5" text-anchor="end">-0.04</text>
<text x="38.1" y="78.3" font-size="10.5" text-anchor="end">-0.06</text>
<text x="37.7" y="91.7" font-size="10.5" text-anchor="end">0.0018</text>
<text x="37.7" y="110.8" font-size="10.5" text-anchor="end">0.0012</text>
<text x="37.7" y="129.9" font-size="10.5" text-anchor="end">0.0006</text>
<text x="37.7" y="149.0" font-size="10.5" text-anchor="end">0.0000</text>
<text x="37.7" y="162.6" font-size="10.5" text-anchor="end">0.009</text>
<text x="37.7" y="181.8" font-size="10.5" text-anchor="end">0.006</text>
<text x="37.7" y="201.0" font-size="10.5" text-anchor="end">0.003</text>
<text x="37.7" y="220.20000000000002" font-size="10.5" text-anchor="end">0.000</text>
<text x="44.0" y="228.8" font-size="8.4" text-anchor="middle">0</text>
<text x="98.0" y="228.8" font-size="8.4" text-anchor="middle">500</text>
<text x="152.0" y="228.8" font-size="8.4" text-anchor="middle">1000</text>
<text x="206.0" y="228.8" font-size="8.4" text-anchor="middle">1500</text>
<text x="260.0" y="228.8" font-size="8.4" text-anchor="middle">2000</text>
<text x="314.0" y="228.8" font-size="8.4" text-anchor="middle">2500</text>
<text x="172.8" y="246.2" font-size="10.5" text-anchor="middle">Time (s)</text>
<text x="174.6" y="11.5" font-size="13.3" text-anchor="middle">No.63</text>
<text transform="translate(11.4,83.8) rotate(-90)" font-size="11.0" textLength="76.00" lengthAdjust="spacingAndGlyphs">Temperature (°C)</text>
<text transform="translate(8.2,150.20000000000002) rotate(-90)" font-size="11.0" textLength="59.80" lengthAdjust="spacingAndGlyphs">Concentration</text>
<text transform="translate(9.6,226.4) rotate(-90)" font-size="11.0" textLength="39.00" lengthAdjust="spacingAndGlyphs">Diameter</text>
<text transform="translate(7.2,179.9) rotate(-90)" font-size="9.0">(</text>
<text transform="translate(8.8,174.4) rotate(-90)" font-size="11.0">m</text>
<text transform="translate(7.2,165.4) rotate(-90)" font-size="9.0">)</text>
<text x="378.20 383.50 388.80 394.10" y="25.3" font-size="9.9">0.00</text>
<text x="372.90 378.20 383.50 388.80 394.10" y="43.0" font-size="9.9">−0.02</text>
<text x="372.90 378.20 383.50 388.80 394.10" y="60.6" font-size="9.9">−0.04</text>
<text x="372.90 378.20 383.50 388.80 394.10" y="78.10000000000001" font-size="9.9">−0.06</text>
<text x="367.60 372.90 378.20 383.50 388.80 394.10" y="91.3" font-size="9.9">0.0016</text>
<text x="367.60 372.90 378.20 383.50 388.80 394.10" y="120.2" font-size="9.9">0.0008</text>
<text x="367.60 372.90 378.20 383.50 388.80 394.10" y="149.1" font-size="9.9">0.0000</text>
<text x="372.90 378.20 383.50 388.80 394.10" y="161.89999999999998" font-size="9.9">0.008</text>
<text x="372.90 378.20 383.50 388.80 394.10" y="191.29999999999998" font-size="9.9">0.004</text>
<text x="372.90 378.20 383.50 388.80 394.10" y="219.6" font-size="9.9">0.000</text>
<text x="404.6" y="229.8" font-size="10.2" text-anchor="middle">0</text>
<text x="458.5" y="229.8" font-size="10.2" text-anchor="middle">500</text>
<text x="512.4000000000001" y="229.8" font-size="10.2" text-anchor="middle">1000</text>
<text x="566.3000000000001" y="229.8" font-size="10.2" text-anchor="middle">1500</text>
<text x="620.2" y="229.8" font-size="10.2" text-anchor="middle">2000</text>
<text x="674.1" y="229.8" font-size="10.2" text-anchor="middle">2500</text>
<text x="539.3" y="245.5" font-size="10.5" text-anchor="middle">Time (s)</text>
<text x="535.4" y="9.2" font-size="13.3" text-anchor="middle">No.86</text>
<text transform="translate(362.0,82.39999999999999) rotate(-90)" font-size="11.0" textLength="75.50" lengthAdjust="spacingAndGlyphs">Temperature (°C)</text>
<text transform="translate(362.6,146.3) rotate(-90)" font-size="11.0" textLength="58.50" lengthAdjust="spacingAndGlyphs">Concentration</text>
<text transform="translate(362.0,225.0) rotate(-90)" font-size="11.0" textLength="42.80" lengthAdjust="spacingAndGlyphs">Diameter</text>
<text transform="translate(360.0,175.9) rotate(-90)" font-size="9.0">(</text>
<text transform="translate(360.6,170.0) rotate(-90)" font-size="11.0">m</text>
<text transform="translate(360.0,160.0) rotate(-90)" font-size="9.0">)</text>
</svg>
</body></html>
